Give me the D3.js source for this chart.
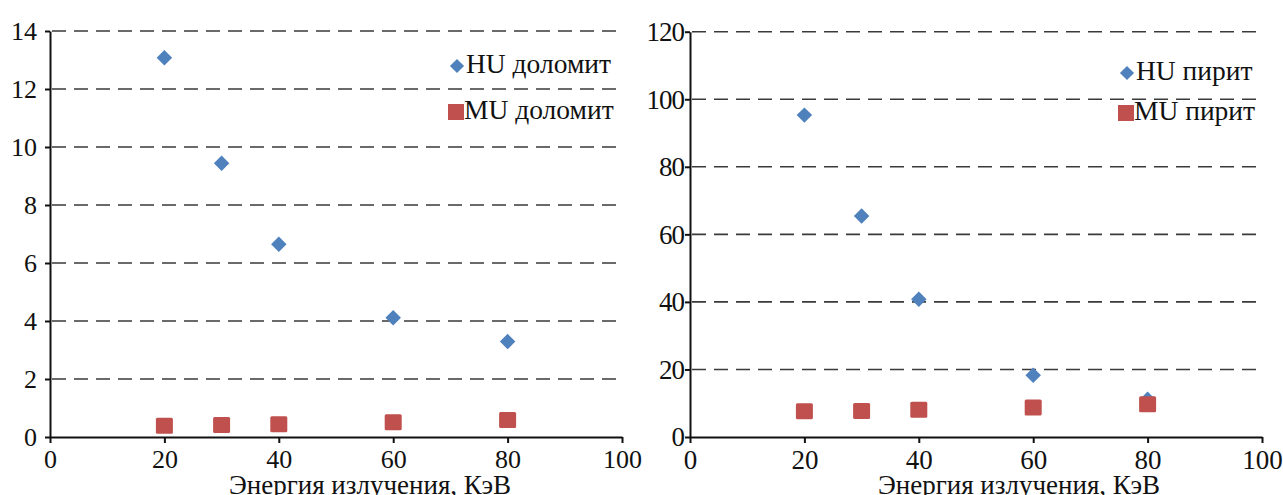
<!DOCTYPE html>
<html><head><meta charset="utf-8">
<script src="https://d3js.org/d3.v7.min.js"></script>
<style>html,body{margin:0;padding:0;background:#fff;overflow:hidden}</style>
</head><body>
<svg id="c" width="1283" height="495"></svg>
<script>
const energies = [20, 30, 40, 60, 80];
const xTicks = [0, 20, 40, 60, 80, 100];
const huDolomite = [13.08, 9.44, 6.65, 4.11, 3.29];
const muDolomite = [0.39, 0.41, 0.44, 0.51, 0.59];
const huPyrite = [95.3, 65.4, 40.8, 18.3, 11.2];
const muPyrite = [7.6, 7.7, 8.1, 8.7, 9.7];
const yTicksLeft = [0, 2, 4, 6, 8, 10, 12, 14];
const yTicksRight = [0, 20, 40, 60, 80, 100, 120];
const xTitle = "Энергия излучения, КэВ";
const legendLeft = ["HU доломит", "MU доломит"];
const legendRight = ["HU пирит", "MU пирит"];

const svg = d3.select("#c");
const FONT = '"Liberation Serif"';
const BLUE = "#4F81BD", RED = "#C0504D";
const diamondType = { draw(ctx, size) { const h = Math.sqrt(size) / 2;
  ctx.moveTo(0, -h); ctx.lineTo(h, 0); ctx.lineTo(0, h); ctx.lineTo(-h, 0); ctx.closePath(); } };

function txt(sel, fs) { return sel.style("font-family", FONT).style("font-size", fs + "px").attr("fill", "#111"); }

function chart(o) {
  const g = svg.append("g");
  const x = d3.scaleLinear().domain([0, 100]).range([o.x0, o.x1]);
  const y = d3.scaleLinear().domain([0, o.ymax]).range([o.yb, o.yt]);
  g.append("g").selectAll("line").data(o.yTicks.filter(d => d > 0)).join("line")
    .attr("x1", o.x0).attr("x2", o.x1)
    .attr("y1", d => y(d)).attr("y2", d => y(d))
    .attr("stroke", "#3a3a3a").attr("stroke-width", 1.6)
    .attr("stroke-dasharray", "14,8").attr("stroke-dashoffset", -2);
  const ya = g.append("g").attr("transform", `translate(${o.x0},0)`)
    .call(d3.axisLeft(y).tickValues(o.yTicks).tickSize(5).tickSizeOuter(0).tickPadding(o.ypad));
  const xa = g.append("g").attr("transform", `translate(0,${o.yb})`)
    .call(d3.axisBottom(x).tickValues(xTicks).tickSize(6).tickSizeOuter(0).tickPadding(7));
  [ya, xa].forEach(a => {
    a.select(".domain").attr("stroke", "#111").attr("stroke-width", 2);
    a.selectAll(".tick line").attr("stroke", "#111").attr("stroke-width", 2);
    txt(a.selectAll("text"), o.fs);
  });
  ya.selectAll("text").attr("dy", "0.33em").attr("letter-spacing", o.yls);
  xa.selectAll("text").attr("dy", "0.7em");
  txt(g.append("text").attr("x", o.titleX).attr("y", 494).attr("text-anchor", "middle"), 27).text(xTitle);
  const diamond = d3.symbol().type(diamondType).size(240);
  g.append("g").selectAll("path").data(energies.map((e, i) => [e, o.hu[i]])).join("path")
    .attr("d", diamond).attr("transform", d => `translate(${x(d[0])},${y(d[1])})`).attr("fill", BLUE);
  g.append("g").selectAll("rect").data(energies.map((e, i) => [e, o.mu[i]])).join("rect")
    .attr("x", d => x(d[0]) - 8.5).attr("y", d => y(d[1]) - 8).attr("width", 17).attr("height", 16)
    .attr("rx", 1.5).attr("fill", RED);
  const lg = g.append("g");
  lg.append("path").attr("d", d3.symbol().type(diamondType).size(200))
    .attr("transform", `translate(${o.lx + 7},${o.ly1 - 7})`).attr("fill", BLUE);
  txt(lg.append("text").attr("x", o.lx + 16).attr("y", o.ly1), 27.5).text(o.legend[0]);
  lg.append("rect").attr("x", o.lx - 2).attr("y", o.ly2 - 15).attr("width", 16).attr("height", 16)
    .attr("fill", RED);
  txt(lg.append("text").attr("x", o.lx + 14).attr("y", o.ly2), 27.5).text(o.legend[1]);
}

chart({x0: 50, x1: 622, yb: 437, yt: 31, ymax: 14, yTicks: yTicksLeft, ypad: 8, fs: 26, yls: 0,
  hu: huDolomite, mu: muDolomite, titleX: 370, lx: 450, ly1: 73, ly2: 119, legend: legendLeft});
chart({x0: 690, x1: 1262, yb: 437, yt: 31.7, ymax: 120, yTicks: yTicksRight, ypad: 1, fs: 27, yls: -1,
  hu: huPyrite, mu: muPyrite, titleX: 1019, lx: 1120, ly1: 80, ly2: 120, legend: legendRight});
</script>
</body></html>
